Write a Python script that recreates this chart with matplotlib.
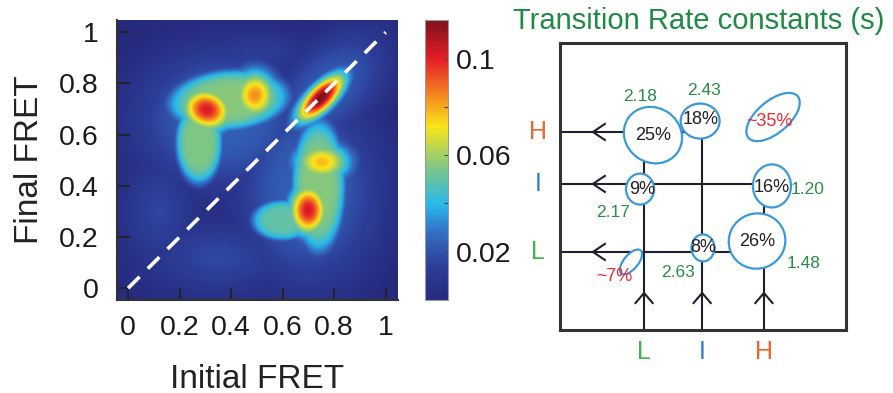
import numpy as np
import matplotlib
matplotlib.use("Agg")
import matplotlib.pyplot as plt
from matplotlib.colors import LinearSegmentedColormap
from matplotlib.patches import Ellipse

plt.rcParams['font.family'] = ['Liberation Sans', 'DejaVu Sans']

# ---------------- data: transition density components (initial FRET, final FRET) ----------------
# centre x, centre y, spread u, spread v, angle (deg), amplitude, shape exponent
peak_x   = [0.305, 0.493, 0.390, 0.275, 0.750, 0.700, 0.753, 0.740, 0.600,
            0.360, 0.700, 0.780, 0.350, 0.120, 0.500, 0.920]
peak_y   = [0.698, 0.755, 0.735, 0.570, 0.745, 0.305, 0.493, 0.400, 0.265,
            0.660, 0.380, 0.780, 0.120, 0.300, 0.920, 0.300]
peak_su  = [0.075, 0.065, 0.175, 0.068, 0.092, 0.056, 0.085, 0.078, 0.090,
            0.240, 0.200, 0.200, 0.200, 0.100, 0.150, 0.060]
peak_sv  = [0.062, 0.075, 0.088, 0.122, 0.038, 0.075, 0.060, 0.195, 0.060,
            0.200, 0.270, 0.120, 0.100, 0.150, 0.060, 0.150]
peak_ang = [-20, 0, 5, 0, 45, 0, 0, 0, 0,
            0, 0, 45, 0, 0, 0, 0]
peak_amp = [0.102, 0.084, 0.056, 0.055, 0.118, 0.103, 0.078, 0.056, 0.050,
            0.024, 0.024, 0.022, 0.017, 0.016, 0.013, 0.014]
peak_p   = [1, 1, 3, 3, 1, 1, 1, 3, 3,
            1.5, 1.5, 1.5, 1, 1, 1, 1]

fret_ticks = [0, 0.2, 0.4, 0.6, 0.8, 1]
fret_ticklabels = ['0', '0.2', '0.4', '0.6', '0.8', '1']
cbar_major = [0.02, 0.06, 0.1]
cbar_labels = ['0.02', '0.06', '0.1']
cbar_minor = [0.04, 0.08]

# ---------------- data: kinetic scheme ----------------
states = ['L', 'I', 'H']
state_colors = ['#3DB54A', '#2E7BC8', '#F0642A']
state_x = [0.294, 0.497, 0.713]
state_y = [0.272, 0.509, 0.690]

trans_pct   = ['25%', '18%', '~35%', '9%', '16%', '26%', '8%', '~7%']
trans_red   = [False, False, True, False, False, False, False, True]
blob_x      = [0.325, 0.490, 0.745, 0.280, 0.741, 0.689, 0.500, 0.248]
blob_y      = [0.679, 0.728, 0.742, 0.491, 0.502, 0.310, 0.286, 0.237]
blob_w      = [0.210, 0.136, 0.225, 0.098, 0.133, 0.199, 0.080, 0.105]
blob_h      = [0.190, 0.122, 0.112, 0.108, 0.150, 0.192, 0.094, 0.050]
blob_ang    = [-35, 0, 40, 0, 0, 20, 0, 50]
pct_x       = [0.325, 0.490, 0.734, 0.287, 0.741, 0.689, 0.500, 0.189]
pct_y       = [0.676, 0.732, 0.728, 0.491, 0.498, 0.307, 0.289, 0.185]

rates   = ['2.18', '2.43', '1.20', '2.17', '2.63', '1.48']
rate_x  = [0.280, 0.503, 0.867, 0.185, 0.413, 0.850]
rate_y  = [0.815, 0.833, 0.488, 0.411, 0.202, 0.233]

# ---------------- figure ----------------
W, H = 893, 393
fig = plt.figure(figsize=(W / 100, H / 100), dpi=100)

def ax_px(l, t, r, b):
    return fig.add_axes([l / W, 1 - b / H, (r - l) / W, (b - t) / H])

cmap = LinearSegmentedColormap.from_list('jetsoft', [
    (0.00, (38/255, 42/255, 125/255)),
    (0.12, (45/255, 62/255, 152/255)),
    (0.24, (52/255, 110/255, 195/255)),
    (0.34, (40/255, 185/255, 235/255)),
    (0.47, (125/255, 198/255, 135/255)),
    (0.62, (250/255, 230/255, 25/255)),
    (0.72, (245/255, 145/255, 30/255)),
    (0.86, (230/255, 30/255, 40/255)),
    (1.00, (125/255, 18/255, 28/255)),
])
vmax = 0.116

xlim = (-0.043, 1.048)
ylim = (-0.046, 1.048)
gx = np.linspace(xlim[0], xlim[1], 400)
gy = np.linspace(ylim[0], ylim[1], 400)
X, Y = np.meshgrid(gx, gy)
layers = []
for cx, cy, su, sv, an, am, pp in zip(peak_x, peak_y, peak_su, peak_sv, peak_ang, peak_amp, peak_p):
    t = np.deg2rad(an)
    dx, dy = X - cx, Y - cy
    u = dx * np.cos(t) + dy * np.sin(t)
    v = -dx * np.sin(t) + dy * np.cos(t)
    r2 = (u / su) ** 2 + (v / sv) ** 2
    layers.append(am * np.exp(-(r2 / 2) ** pp))
Z = np.max(np.array(layers), axis=0)

ax = ax_px(117, 20, 398, 300)
im = ax.imshow(Z, origin='lower', extent=(xlim[0], xlim[1], ylim[0], ylim[1]),
               cmap=cmap, vmin=0, vmax=vmax, interpolation='bilinear', aspect='auto')
ax.plot([0, 1], [0, 1], color='white', lw=2.6, dashes=(4.5, 3.2), solid_capstyle='butt')
ax.set_xlim(xlim)
ax.set_ylim(ylim)
ax.set_xticks(fret_ticks)
ax.set_xticklabels(fret_ticklabels)
ax.set_yticks(fret_ticks)
ax.set_yticklabels(fret_ticklabels)
ax.tick_params(direction='in', length=9, width=1.3, color='#222222',
               labelsize=20.5, pad=11, labelcolor='#1a1a1a')
ax.tick_params(axis='y', pad=13)
for s in ['top', 'right']:
    ax.spines[s].set_visible(False)
for s in ['left', 'bottom']:
    ax.spines[s].set_linewidth(1.5)
    ax.spines[s].set_color('#333333')
ax.set_xlabel('Initial FRET', fontsize=24, color='#222222', labelpad=16)
ax.set_ylabel('Final FRET', fontsize=24, color='#222222', labelpad=10)

cax = ax_px(425, 20, 448, 300)
cb = fig.colorbar(im, cax=cax)
cb.set_ticks(cbar_major)
cb.set_ticklabels(cbar_labels)
cb.ax.set_yticks(cbar_minor, minor=True)
cb.ax.tick_params(which='both', direction='in', length=3, width=0.8, color='#444444',
                  labelsize=20.5, pad=6, labelcolor='#1a1a1a')
cb.outline.set_edgecolor('#999999')
cb.outline.set_linewidth(0.8)

# ---------------- kinetic scheme ----------------
bx = ax_px(560, 43, 846, 330)
bx.set_xlim(0, 1)
bx.set_ylim(0, 1)
bx.set_xticks([])
bx.set_yticks([])
for s in bx.spines.values():
    s.set_linewidth(2.2)
    s.set_color('#333333')

line_c = '#1f1f2e'
# horizontal lines end at the final-destination blobs
h_end = [blob_x[5], blob_x[4], blob_x[1]]
for yy, xe in zip(state_y, h_end):
    bx.plot([0, xe], [yy, yy], color=line_c, lw=1.5, zorder=1)
    bx.plot([0.115 + 0.042, 0.115, 0.115 + 0.042], [yy + 0.028, yy, yy - 0.028],
            color=line_c, lw=1.5, zorder=1)
v_end = [blob_y[0], blob_y[1], blob_y[4]]
for xx, ye in zip(state_x, v_end):
    bx.plot([xx, xx], [0, ye], color=line_c, lw=1.5, zorder=1)
    bx.plot([xx - 0.03, xx, xx + 0.03], [0.129 - 0.035, 0.129, 0.129 - 0.035],
            color=line_c, lw=1.5, zorder=1)

for x0, y0, w0, h0, a0 in zip(blob_x, blob_y, blob_w, blob_h, blob_ang):
    bx.add_patch(Ellipse((x0, y0), w0, h0, angle=a0, facecolor='white',
                         edgecolor='#3A9AD9', lw=1.6, zorder=2))
for lab, red, tx, ty in zip(trans_pct, trans_red, pct_x, pct_y):
    bx.text(tx, ty, lab, ha='center', va='center', fontsize=13,
            color='#EB2A32' if red else '#231F20', zorder=3)
for lab, tx, ty in zip(rates, rate_x, rate_y):
    bx.text(tx, ty, lab, ha='center', va='center', fontsize=12.5, color='#2A8C46', zorder=3)

for st, c, xx, yy in zip(states, state_colors, state_x, state_y):
    bx.text(-0.077, yy, st, ha='center', va='center', fontsize=18, color=c, clip_on=False)
    bx.text(xx, -0.077, st, ha='center', va='center', fontsize=18, color=c, clip_on=False)

fig.text(699 / W, 1 - 21 / H, 'Transition Rate constants (s)', ha='center', va='center',
         fontsize=21, color='#1E8A44')

fig.savefig('out.png', dpi=100)
